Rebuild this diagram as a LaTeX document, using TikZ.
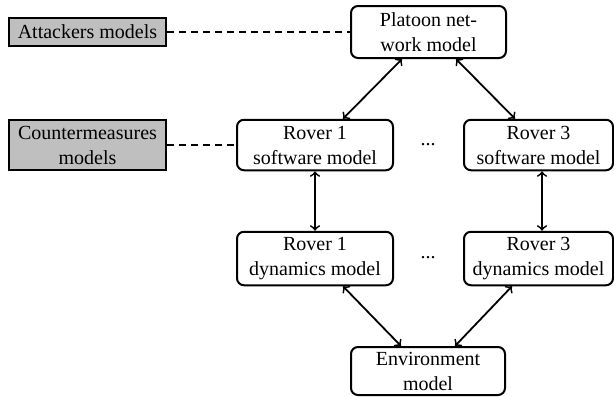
\documentclass[tikz,border=0pt]{standalone}
\usepackage{fontspec}
\setmainfont{Liberation Serif}
\usetikzlibrary{calc}
\begin{document}
\begin{tikzpicture}[x=0.5pt,y=-0.5pt,>=to,
  txt/.style={font=\fontsize{10}{12.5}\selectfont},
  mbox/.style={txt, draw, line width=1pt, rounded corners=3.5pt, align=center, inner sep=0pt},
  gbox/.style={txt, draw, line width=1pt, fill=gray!50, align=center, inner sep=0pt},
  biarrow/.style={<->, line width=0.9pt},
  dline/.style={line width=0.9pt, dash pattern=on 3.5pt off 2.5pt}]
\useasboundingbox (0,0) rectangle (614,397);
\node[gbox, minimum width=78.5pt, minimum height=13.75pt] (att) at (87.5,31.8) {Attackers models};
\node[gbox, minimum width=78.5pt, minimum height=25.25pt] (cm) at (87.5,145) {Countermeasures\\models};
\node[mbox, minimum width=77.5pt, minimum height=26pt] (plat) at (428.5,32) {Platoon net-\\work model};
\node[mbox, minimum width=78pt, minimum height=25.25pt] (r1s) at (315,145) {Rover 1\\software model};
\node[mbox, minimum width=74.5pt, minimum height=25.25pt] (r3s) at (538.5,145) {Rover 3\\software model};
\node[mbox, minimum width=78pt, minimum height=26.75pt] (r1d) at (315,258.5) {Rover 1\\dynamics model};
\node[mbox, minimum width=74.5pt, minimum height=26.75pt] (r3d) at (538.5,258.5) {Rover 3\\dynamics model};
\node[mbox, minimum width=77pt, minimum height=24pt] (env) at (428,371) {Environment\\model};
\node[txt, inner sep=0pt] (d1) at (428,145) {...};
\node[txt, inner sep=0pt] (d2) at (428,258) {...};
\draw[dline] (att.east) -- (plat.west |- att.east);
\draw[dline] (cm.east) -- (r1s.west);
\draw[biarrow] ([xshift=-13.25pt]plat.south) -- ([xshift=14pt]r1s.north);
\draw[biarrow] ([xshift=13.75pt]plat.south) -- ([xshift=-11.75pt]r3s.north);
\draw[biarrow] (r1s.south) -- (r1d.north);
\draw[biarrow] ([xshift=1.75pt]r3s.south) -- ([xshift=1.75pt]r3d.north);
\draw[biarrow] ([xshift=14pt]r1d.south) -- ([xshift=-13.5pt]env.north);
\draw[biarrow] ([xshift=-13.25pt]r3d.south) -- ([xshift=13.5pt]env.north);
\end{tikzpicture}
\end{document}
